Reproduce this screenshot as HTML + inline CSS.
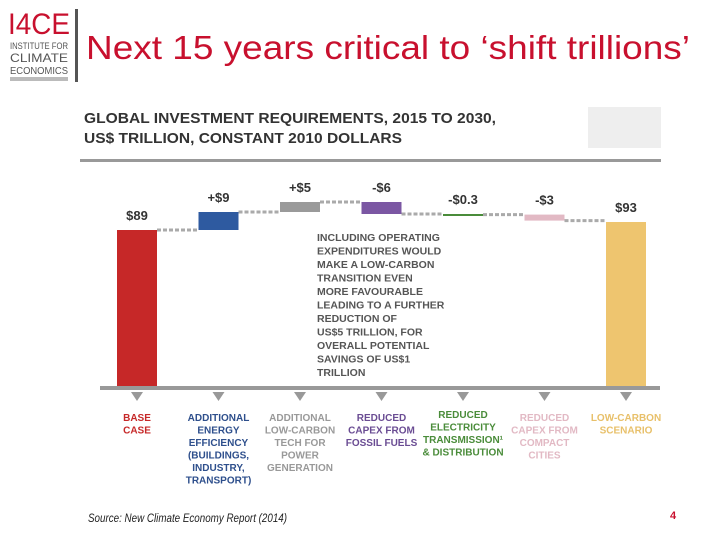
<!DOCTYPE html>
<html><head><meta charset="utf-8"><style>
body{margin:0;width:720px;height:540px;background:#fff;overflow:hidden;font-family:"Liberation Sans",sans-serif;}
</style></head><body>
<svg width="720" height="540" viewBox="0 0 720 540">
<g>
<text x="8" y="34" font-size="30" fill="#c8102e" font-family="Liberation Sans" textLength="62" lengthAdjust="spacingAndGlyphs">I4CE</text>
<text x="10" y="49" font-size="9" fill="#555" textLength="58" lengthAdjust="spacingAndGlyphs">INSTITUTE FOR</text>
<text x="10" y="62" font-size="12" fill="#555" textLength="58" lengthAdjust="spacingAndGlyphs">CLIMATE</text>
<text x="10" y="74" font-size="10" fill="#555" textLength="58" lengthAdjust="spacingAndGlyphs">ECONOMICS</text>
<rect x="10" y="77" width="58" height="4" fill="#bbb"/>
<rect x="75" y="9" width="3" height="73" fill="#555"/>
</g>
<text x="86" y="59" font-size="33" fill="#c8102e" textLength="604" lengthAdjust="spacingAndGlyphs">Next 15 years critical to ‘shift trillions’</text>
<text x="84" y="123" font-size="15" font-weight="bold" fill="#333" textLength="412" lengthAdjust="spacingAndGlyphs">GLOBAL INVESTMENT REQUIREMENTS, 2015 TO 2030,</text>
<text x="84" y="143" font-size="15" font-weight="bold" fill="#333" textLength="318" lengthAdjust="spacingAndGlyphs">US$ TRILLION, CONSTANT 2010 DOLLARS</text>
<rect x="588" y="107" width="73" height="41" fill="#eeeeee"/>
<rect x="80" y="159" width="581" height="3" fill="#999"/>
<g id="chart"></g>
<g font-size="10.5" font-weight="bold" fill="#555">
<text x="317" y="241">INCLUDING OPERATING</text>
<text x="317" y="254.5">EXPENDITURES WOULD</text>
<text x="317" y="268">MAKE A LOW-CARBON</text>
<text x="317" y="281.5">TRANSITION EVEN</text>
<text x="317" y="295">MORE FAVOURABLE</text>
<text x="317" y="308.5">LEADING TO A FURTHER</text>
<text x="317" y="322">REDUCTION OF</text>
<text x="317" y="335.5">US$5 TRILLION, FOR</text>
<text x="317" y="349">OVERALL POTENTIAL</text>
<text x="317" y="362.5">SAVINGS OF US$1</text>
<text x="317" y="376">TRILLION</text>
</g>
<text x="88" y="522" font-size="12" font-style="italic" fill="#222" textLength="199" lengthAdjust="spacingAndGlyphs">Source: New Climate Economy Report (2014)</text>
<text x="670" y="519" font-size="11" font-weight="bold" fill="#c8102e">4</text>
</svg>
<script>
const categories=[["BASE","CASE"],["ADDITIONAL","ENERGY","EFFICIENCY","(BUILDINGS,","INDUSTRY,","TRANSPORT)"],["ADDITIONAL","LOW-CARBON","TECH FOR","POWER","GENERATION"],["REDUCED","CAPEX FROM","FOSSIL FUELS"],["REDUCED","ELECTRICITY","TRANSMISSION¹","& DISTRIBUTION"],["REDUCED","CAPEX FROM","COMPACT","CITIES"],["LOW-CARBON","SCENARIO"]];
const deltas=[89,9,5,-6,-0.3,-3,93];
const valueLabels=["$89","+$9","+$5","-$6","-$0.3","-$3","$93"];
const colors=["#c62828","#2e5aa0","#9a9a9a","#7b57a3","#4a8c3a","#e2b9c4","#eec56f"];
const catColors=["#c62828","#2e4f8c","#999","#6a4c93","#4a8c3a","#e2b9c4","#e8c06a"];
const NS="http://www.w3.org/2000/svg";
const g=document.getElementById('chart');
const baseY=388,k=2.0,ref=89;
function y(v){return 230-(v-ref)*k;}
function x(i){return 117+i*81.5;}
const bw=40;
function mk(t,a,p){const e=document.createElementNS(NS,t);for(const n in a)e.setAttribute(n,a[n]);(p||g).appendChild(e);return e;}
let cum=0,prevTop=null;
const n=deltas.length;
for(let i=0;i<n;i++){
  let top,bot;
  if(i===0||i===n-1){cum=deltas[i];top=y(cum);bot=baseY;}
  else{const s=cum;cum+=deltas[i];top=Math.min(y(s),y(cum));bot=Math.max(y(s),y(cum));if(bot-top<2)bot=top+2;}
  const r=mk('rect',{x:x(i),y:top,width:bw,height:bot-top,fill:colors[i]});
  
  
  const endY=(i===0||i===n-1)?top:y(cum);
  if(i>0){const l=mk('line',{x1:x(i-1)+bw,x2:x(i),y1:prevTop,y2:prevTop,stroke:'#aaa','stroke-width':3,'stroke-dasharray':'4 2'});
    
    }
  prevTop=(i===0)?top:endY;
  const t=mk('text',{x:x(i)+bw/2,y:top-10,'text-anchor':'middle','font-size':13,'font-weight':'bold',fill:'#333'});
  t.textContent=valueLabels[i];
  
  
  const tri=mk('polygon',{points:`${x(i)+bw/2-6},392 ${x(i)+bw/2+6},392 ${x(i)+bw/2},401`,fill:'#999'});
  
  
  const ct=mk('text',{'text-anchor':'middle','font-size':10,'font-weight':'bold',fill:catColors[i]});
  
  
  categories[i].forEach((s,j)=>{const ts=mk('tspan',{x:x(i)+bw/2,y:(i===4?418:421)+j*12.5},ct);ts.textContent=s;});
}
const ax=mk('rect',{x:100,y:386,width:560,height:4,fill:'#999'});


</script>
</body></html>
